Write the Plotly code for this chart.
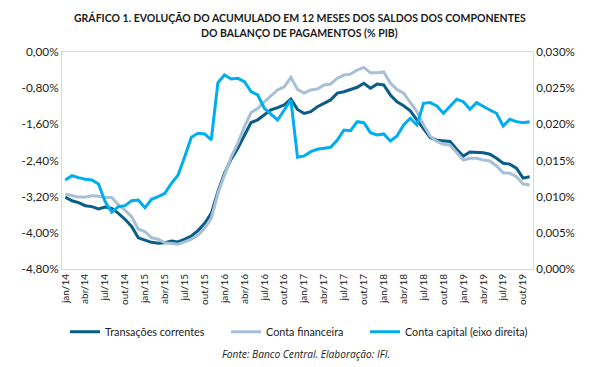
import plotly.graph_objects as go

months = ["jan", "fev", "mar", "abr", "mai", "jun", "jul", "ago", "set", "out", "nov", "dez"]
categories = [f"{m}/{y}" for y in range(14, 20) for m in months][:71]

transacoes_correntes = [
    -3.21, -3.29, -3.33, -3.40, -3.42, -3.47, -3.43, -3.46, -3.57, -3.70,
    -3.86, -4.11, -4.16, -4.21, -4.23, -4.22, -4.18, -4.20, -4.14, -4.07,
    -3.95, -3.79, -3.57, -3.09, -2.68, -2.37, -2.13, -1.86, -1.56, -1.50,
    -1.39, -1.28, -1.23, -1.17, -1.04, -1.27, -1.36, -1.32, -1.21, -1.14,
    -1.06, -0.91, -0.88, -0.83, -0.78, -0.69, -0.80, -0.71, -0.73, -0.95,
    -1.10, -1.19, -1.30, -1.50, -1.69, -1.89, -1.95, -1.97, -1.98, -2.15,
    -2.30, -2.21, -2.22, -2.23, -2.26, -2.35, -2.46, -2.48, -2.57, -2.79,
    -2.76,
]

conta_financeira = [
    -3.14, -3.18, -3.21, -3.21, -3.18, -3.19, -3.22, -3.22, -3.38, -3.50,
    -3.64, -3.92, -3.97, -4.11, -4.14, -4.22, -4.23, -4.25, -4.20, -4.14,
    -4.05, -3.90, -3.68, -3.13, -2.72, -2.32, -2.02, -1.65, -1.34, -1.25,
    -1.10, -0.97, -0.84, -0.77, -0.56, -0.83, -0.91, -0.84, -0.82, -0.73,
    -0.71, -0.58, -0.51, -0.49, -0.40, -0.34, -0.46, -0.46, -0.44, -0.69,
    -0.83, -0.91, -1.12, -1.32, -1.61, -1.86, -1.98, -2.04, -2.06, -2.23,
    -2.39, -2.35, -2.35, -2.39, -2.41, -2.52, -2.67, -2.68, -2.76, -2.92,
    -2.94,
]

conta_capital = [
    0.01231, 0.01290, 0.01263, 0.01240, 0.01231, 0.01176, 0.00931, 0.00785, 0.00862, 0.00876,
    0.00945, 0.00954, 0.00848, 0.00964, 0.01000, 0.01047, 0.01185, 0.01300, 0.01553, 0.01821,
    0.01876, 0.01867, 0.01784, 0.02576, 0.02682, 0.02627, 0.02636, 0.02590, 0.02452, 0.02406,
    0.02222, 0.02143, 0.02060, 0.02198, 0.02337, 0.01545, 0.01563, 0.01622, 0.01655, 0.01669,
    0.01683, 0.01784, 0.01922, 0.01913, 0.02037, 0.02023, 0.01885, 0.01853, 0.01867, 0.01770,
    0.01839, 0.01991, 0.02084, 0.01991, 0.02291, 0.02300, 0.02254, 0.02153, 0.02244, 0.02346,
    0.02313, 0.02208, 0.02300, 0.02244, 0.02198, 0.02153, 0.01977, 0.02070, 0.02037, 0.02023,
    0.02037,
]

left_ticks = [0.0, -0.8, -1.6, -2.4, -3.2, -4.0, -4.8]
left_tick_labels = ["0,00%", "-0,80%", "-1,60%", "-2,40%", "-3,20%", "-4,00%", "-4,80%"]
right_ticks = [0.0, 0.005, 0.010, 0.015, 0.020, 0.025, 0.030]
right_tick_labels = ["0,000%", "0,005%", "0,010%", "0,015%", "0,020%", "0,025%", "0,030%"]

series_names = ["Transações correntes", "Conta financeira", "Conta capital (eixo direita)"]
title_line1 = "<b>GRÁFICO 1. EVOLUÇÃO DO ACUMULADO EM 12 MESES DOS SALDOS DOS COMPONENTES</b>"
title_line2 = "<b>DO BALANÇO DE PAGAMENTOS (% PIB)</b>"
source_text = "<i>Fonte: Banco Central. Elaboração: IFI.</i>"

FONT = "Lato"
NBSP = "\u00a0"
x_idx = list(range(len(categories)))
tick_idx = x_idx[::3]
tick_lab = categories[::3]

fig = go.Figure()
fig.add_trace(go.Scatter(x=x_idx, y=transacoes_correntes, name=series_names[0] + NBSP * 6,
                         mode="lines", line=dict(color="#0a5d87", width=3)))
fig.add_trace(go.Scatter(x=x_idx, y=conta_financeira, name=series_names[1] + NBSP * 6,
                         mode="lines", line=dict(color="#a7bfd7", width=3)))
fig.add_trace(go.Scatter(x=x_idx, y=conta_capital, name=series_names[2],
                         mode="lines", line=dict(color="#00aeef", width=3), yaxis="y2"))

fig.update_layout(
    width=608, height=367,
    margin=dict(l=62, r=75, t=52, b=98),
    paper_bgcolor="white", plot_bgcolor="white",
    font=dict(family=FONT, size=11, color="#222222"),
    xaxis=dict(range=[-0.5, 70.5], tickmode="array", tickvals=tick_idx, ticktext=tick_lab,
               tickangle=-90, showgrid=False, zeroline=False, showline=True,
               linecolor="#d9d9d9", linewidth=1, mirror=True, ticks="",
               tickfont=dict(size=10)),
    yaxis=dict(range=[-4.8, 0.0], tickmode="array", tickvals=left_ticks, ticktext=left_tick_labels,
               showgrid=False, zeroline=False, showline=True, linecolor="#d9d9d9",
               linewidth=1, ticks="", ticklen=0, tickfont=dict(size=11.8)),
    yaxis2=dict(range=[0.0, 0.030], overlaying="y", side="right", tickmode="array",
                tickvals=right_ticks, ticktext=right_tick_labels, showgrid=False,
                zeroline=False, showline=True, linecolor="#d9d9d9", linewidth=1,
                ticks="", tickfont=dict(size=11.5)),
    legend=dict(orientation="h", x=0.0064, xanchor="left", y=-0.289, yanchor="middle",
                font=dict(size=10.8), itemwidth=30, tracegroupgap=0, bgcolor="rgba(0,0,0,0)"),
    showlegend=True,
)
fig.add_annotation(text=title_line1, xref="paper", yref="paper", x=0.505, y=1.157,
                   xanchor="center", yanchor="middle", showarrow=False,
                   font=dict(family=FONT, size=10.5, color="#1a1a1a"))
fig.add_annotation(text=title_line2, xref="paper", yref="paper", x=0.505, y=1.088,
                   xanchor="center", yanchor="middle", showarrow=False,
                   font=dict(family=FONT, size=10.5, color="#1a1a1a"))
fig.add_annotation(text=source_text, xref="paper", yref="paper", x=0.518, y=-0.392,
                   xanchor="center", yanchor="middle", showarrow=False,
                   font=dict(family="Open Sans", size=10.2, color="#222222"))

fig.write_html("out.html", config={"displayModeBar": False},
               post_script="document.body.style.margin='0';")
